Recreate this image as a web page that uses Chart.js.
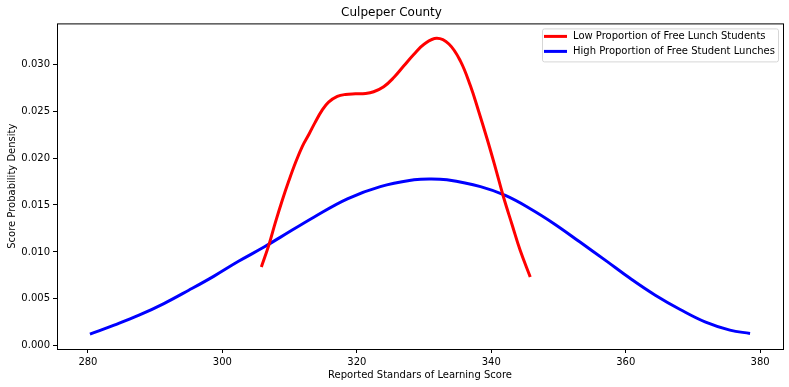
<!DOCTYPE html>
<html>
<head>
<meta charset="utf-8">
<script src="https://cdn.jsdelivr.net/npm/chart.js@4"></script>
<style>
  body { margin: 0; background: #fff; }
  canvas { display: block; }
</style>
</head>
<body>
<canvas id="kdeChart" width="789" height="387"></canvas>
<script>
// Curves (score, density)
const lowX = [305.8, 306.9, 307.9, 308.9, 309.9, 310.9, 311.9, 312.9, 313.8, 314.8, 315.8, 317.1, 318.3, 319.8, 321.3, 322.5, 324.0, 325.5, 327.0, 328.5, 330.0, 331.9, 333.7, 335.4, 336.9, 338.1, 339.4, 340.6, 341.8, 343.1, 344.3, 345.8];
const lowY = [0.00839, 0.0107, 0.01317, 0.01548, 0.0176, 0.01955, 0.02125, 0.02256, 0.0238, 0.02505, 0.02595, 0.02656, 0.02677, 0.02684, 0.02688, 0.02706, 0.02759, 0.02857, 0.02982, 0.03106, 0.03212, 0.03276, 0.03215, 0.03035, 0.02769, 0.02504, 0.022, 0.01901, 0.0159, 0.0129, 0.01017, 0.00733];

const highX = [280.3, 283.9, 287.6, 291.3, 295.0, 298.7, 302.4, 306.2, 308.6, 313.6, 318.6, 323.5, 328.5, 330.9, 333.4, 338.4, 342.1, 345.8, 349.5, 353.2, 357.0, 360.7, 364.4, 368.1, 371.8, 375.5, 378.5];
const highY = [0.00124, 0.0022, 0.00326, 0.0045, 0.00592, 0.0074, 0.009, 0.01052, 0.01155, 0.0137, 0.01566, 0.01696, 0.01768, 0.01778, 0.01768, 0.01696, 0.01601, 0.0146, 0.01293, 0.01105, 0.0091, 0.00716, 0.00539, 0.00387, 0.00255, 0.00167, 0.00132];

const xTicks = [280, 300, 320, 340, 360, 380];
const yTicks = [0, 0.005, 0.010, 0.015, 0.020, 0.025, 0.030];

const seriesNames = ['Low Proportion of Free Lunch Students', 'High Proportion of Free Student Lunches'];
const seriesColors = ['#ff0000', '#0000ff'];

const FONT = 'DejaVu Sans';

// full box around the plot, like matplotlib spines
const framePlugin = {
  id: 'frame',
  afterDatasetsDraw(chart) {
    const { ctx, chartArea: a } = chart;
    ctx.save();
    ctx.strokeStyle = '#000';
    ctx.lineWidth = 1;
    ctx.strokeRect(a.left + 0.5, a.top + 0.5, a.right - a.left, a.bottom - a.top);
    ctx.restore();
  }
};

// legend inside the upper right corner
const innerLegend = {
  id: 'innerLegend',
  afterDraw(chart) {
    const { ctx, chartArea: a } = chart;
    const boxW = 236, boxH = 33;
    const x = a.right - 5 - boxW, y = a.top + 5;
    ctx.save();
    ctx.fillStyle = 'rgba(255,255,255,0.8)';
    ctx.strokeStyle = '#d6d6d6';
    ctx.lineWidth = 1;
    ctx.beginPath();
    ctx.roundRect(x + 0.5, y + 0.5, boxW, boxH, 2);
    ctx.fill();
    ctx.stroke();
    ctx.font = '10px "' + FONT + '"';
    ctx.textBaseline = 'middle';
    chart.data.datasets.forEach((ds, i) => {
      const rowY = y + 8 + i * 15;
      ctx.strokeStyle = ds.borderColor;
      ctx.lineWidth = 3;
      ctx.beginPath();
      ctx.moveTo(x + 2, rowY);
      ctx.lineTo(x + 25, rowY);
      ctx.stroke();
      ctx.fillStyle = '#000';
      ctx.fillText(ds.label, x + 31, rowY);
    });
    ctx.restore();
  }
};

const ctx = document.getElementById('kdeChart').getContext('2d');
new Chart(ctx, {
  type: 'scatter',
  data: {
    datasets: [
      {
        label: seriesNames[0],
        data: lowX.map((v, i) => ({ x: v, y: lowY[i] })),
        borderColor: seriesColors[0],
        backgroundColor: seriesColors[0]
      },
      {
        label: seriesNames[1],
        data: highX.map((v, i) => ({ x: v, y: highY[i] })),
        borderColor: seriesColors[1],
        backgroundColor: seriesColors[1]
      }
    ]
  },
  options: {
    responsive: false,
    animation: false,
    showLine: true,
    layout: { padding: { left: 0, right: 6, top: 0, bottom: 0 } },
    elements: {
      point: { radius: 0, hoverRadius: 0 },
      line: { borderWidth: 3, tension: 0.4, fill: false, borderJoinStyle: 'round', borderCapStyle: 'butt' }
    },
    plugins: {
      legend: { display: false },
      tooltip: { enabled: false },
      title: {
        display: true,
        text: 'Culpeper County',
        color: '#000',
        font: { family: FONT, size: 12, weight: 'normal' },
        padding: { top: 6, bottom: 3 }
      }
    },
    scales: {
      x: {
        type: 'linear',
        min: 275.4,
        max: 383.4,
        afterFit: (s) => { s.height = 38; },
        afterBuildTicks: (s) => { s.ticks = xTicks.map(v => ({ value: v })); },
        grid: { display: true, drawOnChartArea: false, drawTicks: true, tickLength: 4, color: '#000' },
        border: { display: false },
        ticks: { color: '#000', padding: 3, maxRotation: 0, font: { family: FONT, size: 10 } },
        title: {
          display: true,
          text: 'Reported Standars of Learning Score',
          color: '#000',
          font: { family: FONT, size: 10 },
          padding: { top: 0, bottom: 6 }
        }
      },
      y: {
        type: 'linear',
        min: -0.00034,
        max: 0.03434,
        afterFit: (s) => { s.width = 57; },
        afterBuildTicks: (s) => { s.ticks = yTicks.map(v => ({ value: v })); },
        grid: { display: true, drawOnChartArea: false, drawTicks: true, tickLength: 4, color: '#000' },
        border: { display: false },
        ticks: {
          color: '#000',
          padding: 3,
          font: { family: FONT, size: 10 },
          callback: (v) => Number(v).toFixed(3)
        },
        title: {
          display: true,
          text: 'Score Probability Density',
          color: '#000',
          font: { family: FONT, size: 10 },
          padding: { top: 6, bottom: 0 }
        }
      }
    }
  },
  plugins: [framePlugin, innerLegend]
});
</script>
</body>
</html>
